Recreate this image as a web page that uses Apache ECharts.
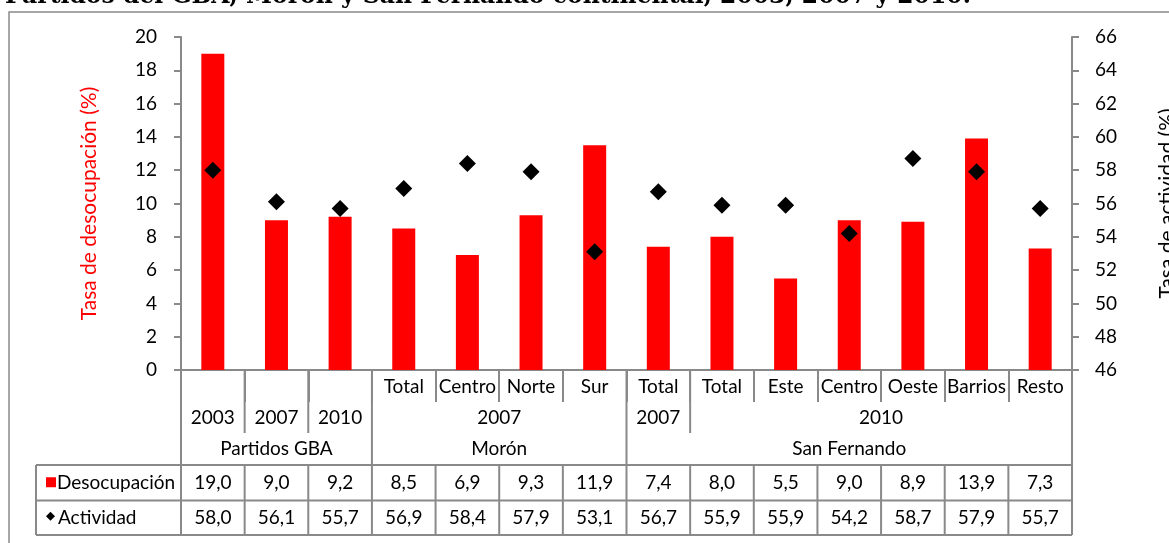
<!DOCTYPE html>
<html><head><meta charset="utf-8">
<script src="https://cdn.jsdelivr.net/npm/echarts@6/dist/echarts.min.js"></script>
<style>html,body{margin:0;padding:0;background:#fff}#c{width:1169px;height:543px}</style>
</head><body><div id="c"></div>
<script>
const titleText = 'Partidos del GBA, Morón y San Fernando continental, 2003, 2007 y 2010.';
const leftAxisName = 'Tasa de desocupación (%)';
const rightAxisName = 'Tasa de actividad (%)';
const seriesNames = ['Desocupación', 'Actividad'];
const level1 = ['', '', '', 'Total', 'Centro', 'Norte', 'Sur', 'Total', 'Total', 'Este', 'Centro', 'Oeste', 'Barrios', 'Resto'];
const level2 = [['2003', 0, 1], ['2007', 1, 2], ['2010', 2, 3], ['2007', 3, 7], ['2007', 7, 8], ['2010', 8, 14]];
const level3 = [['Partidos GBA', 0, 3], ['Morón', 3, 7], ['San Fernando', 7, 14]];
const desocupacionBars = [19.0, 9.0, 9.2, 8.5, 6.9, 9.3, 13.5, 7.4, 8.0, 5.5, 9.0, 8.9, 13.9, 7.3];
const actividad = [58.0, 56.1, 55.7, 56.9, 58.4, 57.9, 53.1, 56.7, 55.9, 55.9, 54.2, 58.7, 57.9, 55.7];
const desocupacionTable = ['19,0', '9,0', '9,2', '8,5', '6,9', '9,3', '11,9', '7,4', '8,0', '5,5', '9,0', '8,9', '13,9', '7,3'];
const actividadTable = ['58,0', '56,1', '55,7', '56,9', '58,4', '57,9', '53,1', '56,7', '55,9', '55,9', '54,2', '58,7', '57,9', '55,7'];
const leftMin = 0, leftMax = 20, leftStep = 2;
const rightMin = 46, rightMax = 66, rightStep = 2;

const FONT = 'Lato';
const FS = 19;
const GRAY = '#898989';
const RED = '#FF0000';

const chart = echarts.init(document.getElementById('c'), null, {renderer: 'canvas'});
const categories = level1.map((_, i) => String(i));

chart.setOption({
  animation: false,
  backgroundColor: '#fff',
  grid: {left: 181, right: 97, top: 37, bottom: 173, containLabel: false, outerBoundsMode: 'none'},
  xAxis: {
    type: 'category', data: categories,
    axisLine: {show: true, lineStyle: {color: GRAY, width: 2}},
    axisTick: {show: true, alignWithLabel: false, length: 32, interval: 0, lineStyle: {color: GRAY, width: 2}},
    axisLabel: {show: true, interval: 0, margin: 7, formatter: (v, i) => level1[i], fontFamily: FONT, fontSize: FS, color: '#000'},
    splitLine: {show: false}
  },
  yAxis: [
    {
      type: 'value', min: leftMin, max: leftMax, interval: leftStep, position: 'left',
      name: leftAxisName, nameLocation: 'middle', nameGap: 81, nameRotate: 90,
      nameTextStyle: {color: RED, fontFamily: FONT, fontSize: 21},
      axisLine: {show: true, lineStyle: {color: GRAY, width: 2}},
      axisTick: {show: true, length: 7, lineStyle: {color: GRAY, width: 2}},
      axisLabel: {margin: 24, fontFamily: FONT, fontSize: FS, color: '#000'},
      splitLine: {show: false}
    },
    {
      type: 'value', min: rightMin, max: rightMax, interval: rightStep, position: 'right',
      name: rightAxisName, nameLocation: 'middle', nameGap: 85, nameRotate: 90,
      nameTextStyle: {color: '#000', fontFamily: FONT, fontSize: 21},
      axisLine: {show: true, lineStyle: {color: GRAY, width: 2}},
      axisTick: {show: true, length: 7, lineStyle: {color: GRAY, width: 2}},
      axisLabel: {margin: 23, fontFamily: FONT, fontSize: FS, color: '#000'},
      splitLine: {show: false}
    }
  ],
  series: [
    {name: seriesNames[0], type: 'bar', yAxisIndex: 0, data: desocupacionBars, barWidth: 23,
     itemStyle: {color: RED}},
    {name: seriesNames[1], type: 'scatter', yAxisIndex: 1, data: actividad, symbol: 'diamond', symbolSize: 17,
     itemStyle: {color: '#000', opacity: 1}, z: 5}
  ]
});

// Build the data table under the axis from the axis scale
const c0 = chart.convertToPixel({xAxisIndex: 0}, 0);
const c1 = chart.convertToPixel({xAxisIndex: 0}, 1);
const band = c1 - c0;
const bx = b => c0 - band / 2 + b * band;
const axisY = chart.convertToPixel({yAxisIndex: 0}, 0);
const row1B = axisY + 32, row2B = axisY + 63, row3B = axisY + 95;
const t1B = row3B + 35.5, t2B = t1B + 34.5;
const tableLeft = 36;
const g = [];
const line = (x1, y1, x2, y2) => g.push({type: 'line', shape: {x1, y1, x2, y2}, style: {stroke: GRAY, lineWidth: 2}, z: 10});
const text = (x, y, s, opts) => g.push({type: 'text', x, y, style: Object.assign({text: s, font: FS + 'px ' + FONT, fill: '#000', align: 'center', verticalAlign: 'middle'}, opts || {}), z: 10});

// outer border and title
g.push({type: 'rect', shape: {x: 9, y: 12, width: 1300, height: 700}, style: {fill: 'none', stroke: GRAY, lineWidth: 1.5}, z: 0});
text(5, 9, titleText, {font: 'bold 23.5px "DejaVu Serif"', align: 'left', verticalAlign: 'bottom'});

const isL3 = b => level3.some(d => d[1] === b || d[2] === b);
const isL2 = b => level2.some(d => d[1] === b || d[2] === b);
for (let b = 0; b <= level1.length; b++) {
  const x = bx(b);
  if (isL3(b)) line(x, axisY, x, t2B);
  else {
    if (isL2(b)) line(x, axisY, x, row2B);
    line(x, row3B, x, t2B);
  }
}
line(tableLeft, row3B, tableLeft, t2B);
[row3B, t1B, t2B].forEach(y => line(tableLeft, y, bx(level1.length), y));

level2.forEach(d => text((bx(d[1]) + bx(d[2])) / 2, axisY + 47.5, d[0]));
level3.forEach(d => text((bx(d[1]) + bx(d[2])) / 2, axisY + 79, d[0]));
const r1 = (row3B + t1B) / 2, r2 = (t1B + t2B) / 2;
desocupacionTable.forEach((s, i) => text(bx(i + 0.5), r1, s));
actividadTable.forEach((s, i) => text(bx(i + 0.5), r2, s));
// row headers with legend keys
g.push({type: 'rect', shape: {x: 46, y: r1 - 5.5, width: 10, height: 10}, style: {fill: RED}, z: 10});
text(57, r1, seriesNames[0], {align: 'left'});
g.push({type: 'polygon', shape: {points: [[50.5, r2 - 6], [55, r2 - 1.5], [50.5, r2 + 3], [46, r2 - 1.5]]}, style: {fill: '#000'}, z: 10});
text(58, r2, seriesNames[1], {align: 'left'});

chart.setOption({graphic: {elements: g}});
</script>
</body></html>
